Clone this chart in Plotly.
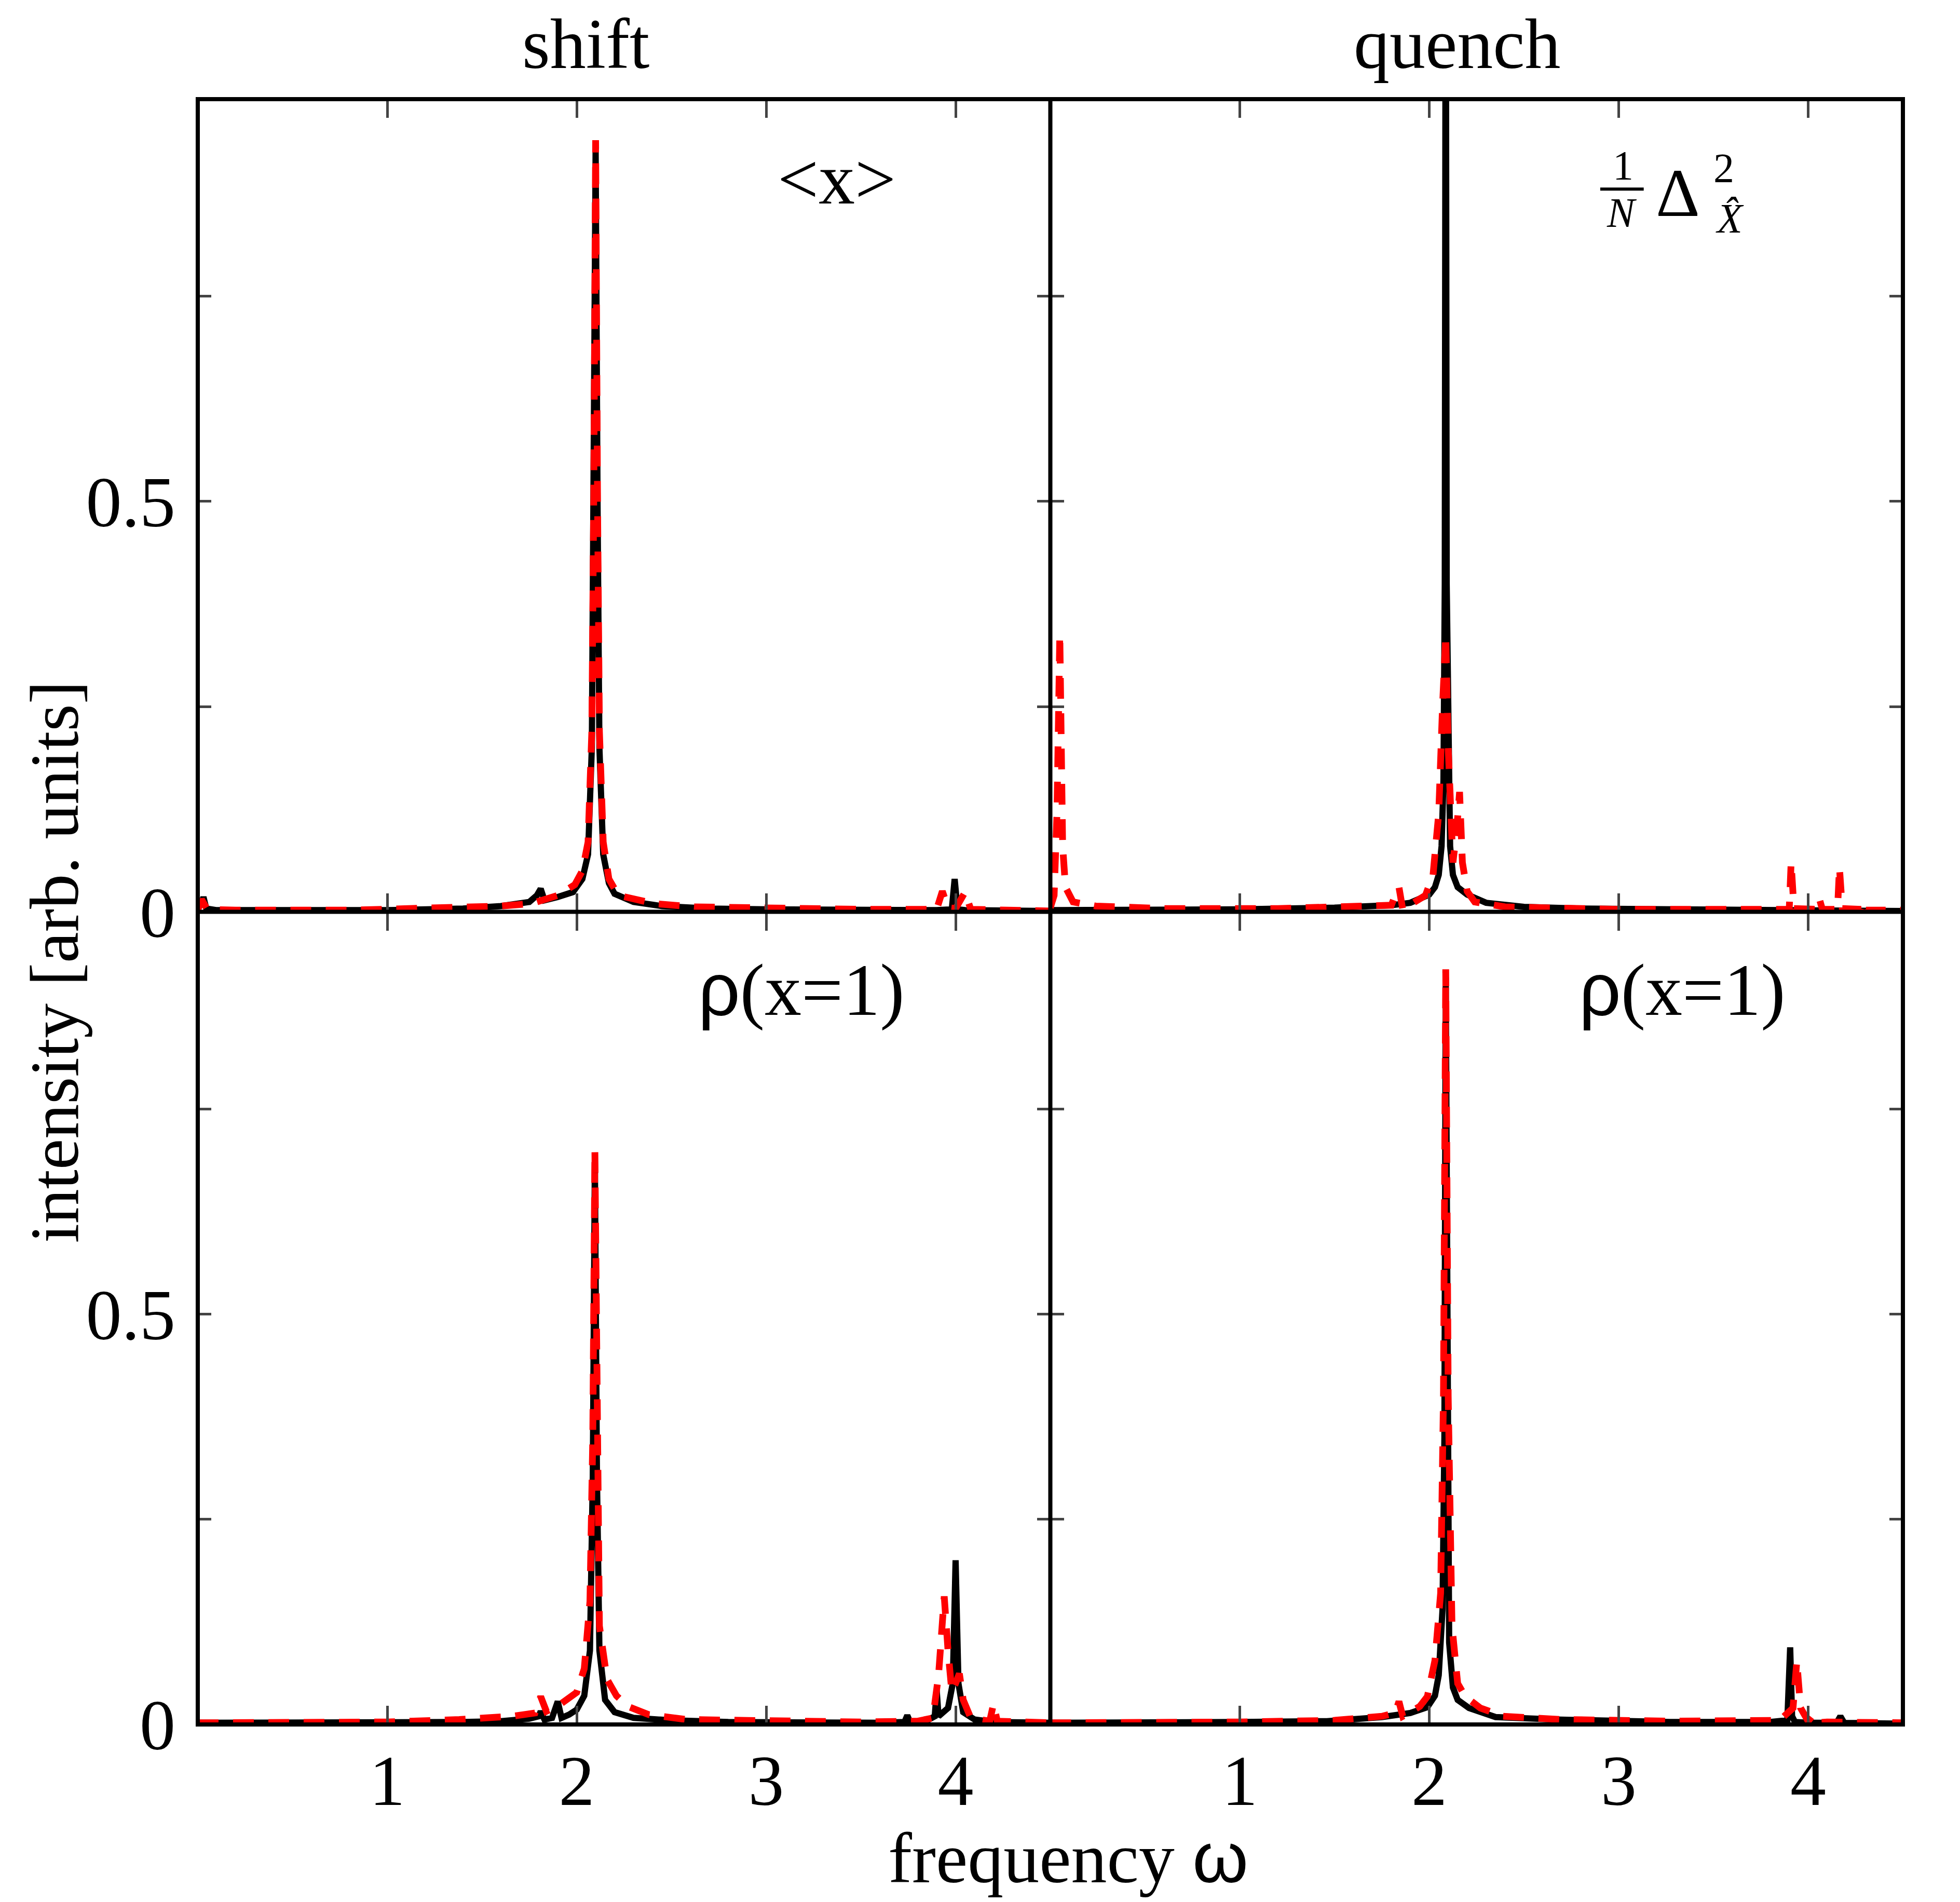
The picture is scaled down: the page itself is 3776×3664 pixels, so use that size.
import plotly.graph_objs as go
from plotly.subplots import make_subplots

# shift, <x>
shift_x_black = [0.0, 0.02, 0.03, 0.045, 0.1, 0.5, 1.0, 1.4, 1.6, 1.75, 1.79, 1.81, 1.83, 1.9, 1.98, 2.03,
                 2.06, 2.08, 2.09, 2.1, 2.11, 2.12, 2.14, 2.17, 2.2, 2.3, 2.45, 2.7, 3.0, 3.5, 3.9, 3.98,
                 3.995, 4.01, 4.05, 4.5]
shift_y_black = [0.004, 0.01, 0.018, 0.004, 0.002, 0.002, 0.002, 0.004, 0.007, 0.012, 0.02, 0.028, 0.014,
                 0.018, 0.024, 0.04, 0.07, 0.2, 0.5, 0.93, 0.5, 0.2, 0.07, 0.035, 0.022, 0.012, 0.007,
                 0.004, 0.003, 0.002, 0.002, 0.003, 0.04, 0.003, 0.002, 0.001]
shift_x_red = [0.0, 0.02, 0.05, 0.2, 0.8, 1.3, 1.6, 1.76, 1.9, 1.99, 2.03, 2.06, 2.08, 2.09, 2.1, 2.11, 2.12,
               2.14, 2.17, 2.22, 2.32, 2.41, 2.62, 3.04, 3.5, 3.9, 3.93, 3.96, 4.0, 4.05, 4.08, 4.5]
shift_y_red = [0.002, 0.015, 0.003, 0.002, 0.002, 0.004, 0.007, 0.01, 0.02, 0.033, 0.05, 0.085, 0.22, 0.5,
               0.94, 0.5, 0.22, 0.085, 0.04, 0.02, 0.015, 0.01, 0.006, 0.004, 0.003, 0.003, 0.025, 0.005,
               0.004, 0.024, 0.003, 0.001]

# quench, (1/N) Delta^2
quench_x_black = [0.0, 0.3, 1.0, 1.5, 1.8, 1.9, 1.95, 2.0, 2.03, 2.05, 2.065, 2.075, 2.082, 2.087, 2.092,
                  2.1, 2.11, 2.125, 2.15, 2.2, 2.3, 2.5, 2.8, 3.3, 3.9, 4.5]
quench_y_black = [0.002, 0.002, 0.003, 0.005, 0.008, 0.011, 0.015, 0.021, 0.03, 0.045, 0.08, 0.16, 0.4,
                  1.3, 0.4, 0.16, 0.08, 0.045, 0.03, 0.021, 0.011, 0.006, 0.004, 0.003, 0.002, 0.001]
quench_x_red = [0.0, 0.02, 0.035, 0.045, 0.05, 0.055, 0.065, 0.08, 0.12, 0.24, 0.6, 1.2, 1.6, 1.8, 1.82,
                1.84, 1.86, 1.93, 1.98, 2.02, 2.05, 2.07, 2.087, 2.1, 2.125, 2.145, 2.16, 2.175, 2.2, 2.24,
                2.4, 3.0, 3.8, 3.9, 3.91, 3.925, 4.05, 4.06, 4.075, 4.155, 4.165, 4.18, 4.28, 4.29, 4.305,
                4.5]
quench_y_red = [0.005, 0.02, 0.12, 0.3, 0.338, 0.25, 0.08, 0.03, 0.012, 0.007, 0.004, 0.004, 0.006, 0.008,
                0.02, 0.03, 0.003, 0.012, 0.02, 0.045, 0.12, 0.25, 0.337, 0.2, 0.06, 0.1, 0.146, 0.06,
                0.025, 0.012, 0.006, 0.003, 0.003, 0.003, 0.06, 0.004, 0.003, 0.015, 0.003, 0.003, 0.054,
                0.004, 0.003, 0.012, 0.002, 0.002]

# shift, rho(x=1)
rho_shift_x_black = [0.0, 0.5, 1.0, 1.4, 1.6, 1.75, 1.8, 1.81, 1.83, 1.87, 1.9, 1.92, 1.96, 2.0, 2.04, 2.07,
                     2.085, 2.096, 2.107, 2.12, 2.15, 2.2, 2.3, 2.5, 2.8, 3.2, 3.6, 3.73, 3.745, 3.76, 3.85,
                     3.89, 3.9, 3.91, 3.96, 3.985, 4.0, 4.015, 4.04, 4.1, 4.2, 4.5]
rho_shift_y_black = [0.002, 0.002, 0.002, 0.003, 0.004, 0.007, 0.01, 0.016, 0.006, 0.008, 0.028, 0.008,
                     0.012, 0.018, 0.035, 0.09, 0.3, 0.69, 0.3, 0.09, 0.03, 0.015, 0.008, 0.005, 0.003,
                     0.002, 0.002, 0.003, 0.011, 0.003, 0.005, 0.01, 0.042, 0.01, 0.02, 0.05, 0.2, 0.05,
                     0.015, 0.006, 0.003, 0.002]
rho_shift_x_red = [0.0, 0.5, 1.0, 1.38, 1.66, 1.78, 1.81, 1.84, 1.91, 2.0, 2.04, 2.07, 2.085, 2.096, 2.107,
                   2.12, 2.16, 2.21, 2.27, 2.38, 2.58, 3.0, 3.5, 3.8, 3.88, 3.91, 3.94, 3.96, 3.98, 4.0,
                   4.02, 4.04, 4.08, 4.18, 4.2, 4.22, 4.3, 4.5]
rho_shift_y_red = [0.002, 0.002, 0.003, 0.006, 0.01, 0.014, 0.034, 0.016, 0.024, 0.039, 0.068, 0.15, 0.35,
                   0.70, 0.35, 0.12, 0.055, 0.035, 0.022, 0.012, 0.006, 0.004, 0.003, 0.004, 0.008, 0.06,
                   0.156, 0.09, 0.04, 0.05, 0.062, 0.03, 0.008, 0.004, 0.025, 0.004, 0.003, 0.002]

# quench, rho(x=1)
rho_quench_x_black = [0.0, 0.5, 1.0, 1.46, 1.75, 1.9, 1.99, 2.03, 2.05, 2.07, 2.08, 2.087, 2.094, 2.105,
                      2.125, 2.15, 2.21, 2.35, 2.67, 3.27, 3.8, 3.89, 3.905, 3.915, 3.93, 4.0, 4.15, 4.17,
                      4.19, 4.5]
rho_quench_y_black = [0.002, 0.002, 0.003, 0.004, 0.009, 0.014, 0.021, 0.035, 0.06, 0.14, 0.35, 0.91, 0.35,
                      0.1, 0.045, 0.03, 0.02, 0.009, 0.006, 0.003, 0.003, 0.005, 0.094, 0.01, 0.003, 0.002,
                      0.002, 0.01, 0.002, 0.001]
rho_quench_x_red = [0.0, 0.5, 1.0, 1.5, 1.75, 1.82, 1.84, 1.86, 1.95, 1.99, 2.03, 2.06, 2.075, 2.087, 2.1,
                    2.12, 2.15, 2.19, 2.27, 2.39, 2.7, 3.3, 3.85, 3.92, 3.94, 3.96, 4.0, 4.02, 4.04, 4.1, 4.5]
rho_quench_y_red = [0.002, 0.002, 0.003, 0.005, 0.01, 0.014, 0.028, 0.01, 0.022, 0.034, 0.078, 0.16, 0.4,
                    0.92, 0.4, 0.12, 0.05, 0.034, 0.02, 0.01, 0.006, 0.004, 0.005, 0.02, 0.077, 0.02, 0.004,
                    0.01, 0.002, 0.003, 0.002]

x_ticks = [1, 2, 3, 4]
y_ticks = [0, 0.25, 0.5, 0.75]
y_ticktext = ['0', '', '0.5', '']

SERIF = 'Liberation Serif'

fig = make_subplots(rows=2, cols=2, horizontal_spacing=0, vertical_spacing=0)

panels = [
    (1, 1, shift_x_black, shift_y_black, shift_x_red, shift_y_red),
    (1, 2, quench_x_black, quench_y_black, quench_x_red, quench_y_red),
    (2, 1, rho_shift_x_black, rho_shift_y_black, rho_shift_x_red, rho_shift_y_red),
    (2, 2, rho_quench_x_black, rho_quench_y_black, rho_quench_x_red, rho_quench_y_red),
]

for row, col, xb, yb, xr, yr in panels:
    fig.add_trace(go.Scatter(x=xb, y=yb, mode='lines',
                             line=dict(color='black', width=12)), row=row, col=col)
    fig.add_trace(go.Scatter(x=xr, y=yr, mode='lines',
                             line=dict(color='#ff0000', width=13, dash='40px,28px')), row=row, col=col)

# frame lines are drawn as shapes so the shared middle borders are not doubled
fig.update_xaxes(range=[0, 4.5], tickvals=x_ticks, ticks='inside', ticklen=36, tickwidth=5,
                 showline=False, mirror='ticks', showgrid=False,
                 zeroline=False, tickfont=dict(family=SERIF, size=138, color='black'))
fig.update_yaxes(range=[0, 0.99], tickvals=y_ticks, ticktext=y_ticktext, ticks='inside', ticklen=26,
                 tickwidth=5, showline=False, mirror='ticks',
                 showgrid=False, zeroline=False, tickfont=dict(family=SERIF, size=138, color='black'))
fig.update_xaxes(showticklabels=False, row=1)
fig.update_yaxes(showticklabels=False, col=2)
fig.update_xaxes(ticklabelstandoff=16, row=2)
fig.update_yaxes(ticklabelstandoff=42, col=1)

txt = dict(family=SERIF, size=138, color='black')
small = dict(family=SERIF, size=80, color='black')
annotations = [
    dict(text='shift', x=0.2277, y=1.034, font=txt),
    dict(text='quench', x=0.7388, y=1.034, font=txt),
    dict(text='intensity [arb. units]', x=-0.084, y=0.469, textangle=-90,
         font=dict(family=SERIF, size=134, color='black')),
    dict(text='frequency <span style="font-family:Liberation Sans">ω</span>', x=0.5106, y=-0.082,
         font=txt),
    dict(text='&lt;x&gt;', x=0.3747, y=0.951, font=dict(family=SERIF, size=140, color='black')),
    dict(text='<span style="font-family:Liberation Sans">ρ</span>(x=1)', x=0.354, y=0.4523,
         font=dict(family=SERIF, size=142, color='black')),
    dict(text='<span style="font-family:Liberation Sans">ρ</span>(x=1)', x=0.8705, y=0.4523,
         font=dict(family=SERIF, size=142, color='black')),
    # 1/N Delta^2_X
    dict(text='1', x=0.8359, y=0.9590, font=small),
    dict(text='<i>N</i>', x=0.8353, y=0.9300, font=small),
    dict(text='Δ', x=0.8680, y=0.9425, font=dict(family=SERIF, size=132, color='black')),
    dict(text='2', x=0.8950, y=0.9575, font=small),
    dict(text='<i>X̂</i>', x=0.8985, y=0.9265, font=small),
]
for a in annotations:
    a.update(xref='paper', yref='paper', showarrow=False, xanchor='center', yanchor='middle')

frame = dict(color='black', width=8)
shapes = [
    dict(type='rect', xref='paper', yref='paper', x0=0, x1=1, y0=0, y1=1, line=frame),
    dict(type='line', xref='paper', yref='paper', x0=0.5, x1=0.5, y0=0, y1=1, line=frame),
    dict(type='line', xref='paper', yref='paper', x0=0, x1=1, y0=0.5, y1=0.5, line=frame),
    dict(type='line', xref='paper', yref='paper', x0=0.8225, x1=0.8480, y0=0.9447, y1=0.9447,
         line=dict(color='black', width=6)),
]

fig.update_layout(
    width=3776, height=3664,
    margin=dict(l=373, r=118, t=183, b=350),
    paper_bgcolor='white', plot_bgcolor='white',
    showlegend=False,
    annotations=annotations,
    shapes=shapes,
)

fig.write_html("out.html")
